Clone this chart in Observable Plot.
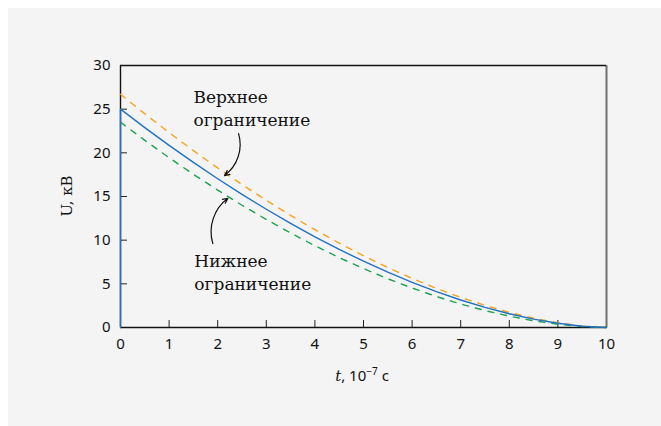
<!DOCTYPE html>
<html>
<head>
<meta charset="utf-8">
<script src="https://cdn.jsdelivr.net/npm/d3@7"></script>
<script src="https://cdn.jsdelivr.net/npm/@observablehq/plot@0.6"></script>
<style>
  html, body { margin: 0; padding: 0; background: #fff; }
  #panel { position: absolute; left: 8px; top: 8px; width: 653px; height: 418px; background: #f4f4f4; }
  #panel svg { display: block; background: transparent; }
  .serif { font-family: "DejaVu Serif", serif !important; }
</style>
</head>
<body>
<div id="panel"></div>
<script>
// Time, 10^-7 s
const t = [0, 0.5, 1, 1.5, 2, 2.5, 3, 3.5, 4, 4.5, 5, 5.5, 6, 6.5, 7, 7.5, 8, 8.5, 9, 9.5, 10];
// Voltage, kV: nominal pulse (rises to 25 kV at t = 0, then decays)
const uNominal = [25, 22.89, 20.86, 18.90, 17.03, 15.24, 13.54, 11.92, 10.38, 8.94, 7.59, 6.33, 5.17, 4.11, 3.15, 2.30, 1.57, 0.96, 0.48, 0.14, 0];
// Upper bound
const uUpper = [26.7, 24.47, 22.32, 20.25, 18.27, 16.37, 14.56, 12.84, 11.20, 9.66, 8.22, 6.87, 5.62, 4.48, 3.45, 2.53, 1.73, 1.06, 0.53, 0.16, 0];
// Lower bound
const uLower = [23.5, 21.43, 19.44, 17.54, 15.73, 14.00, 12.37, 10.82, 9.37, 8.01, 6.75, 5.58, 4.52, 3.55, 2.69, 1.94, 1.30, 0.77, 0.37, 0.11, 0];

const xTicks = [0, 1, 2, 3, 4, 5, 6, 7, 8, 9, 10];
const yTicks = [0, 5, 10, 15, 20, 25, 30];

// Annotation labels and their pointer arrows (data coordinates)
const notes = [
  {t: 1.5, u: 25.26, text: "Верхнее\nограничение"},
  {t: 1.52, u: 6.43, text: "Нижнее\nограничение"}
];
const pointers = [
  {t1: 2.43, u1: 22.2, t2: 2.14, u2: 17.4},
  {t1: 1.90, u1: 9.6, t2: 2.21, u2: 14.8}
];

const nominal = [{t: 0, u: 0}, ...t.map((v, i) => ({t: v, u: uNominal[i]}))];
const upper = t.map((v, i) => ({t: v, u: uUpper[i]}));
const lower = t.map((v, i) => ({t: v, u: uLower[i]}));

const plot = Plot.plot({
  width: 653,
  height: 418,
  marginLeft: 112,
  marginRight: 55,
  marginTop: 57,
  marginBottom: 99,
  style: {background: "transparent", fontFamily: "'Noto Sans', sans-serif", fontSize: "15px", color: "#111"},
  x: {domain: [0, 10]},
  y: {domain: [0, 30]},
  marks: [
    Plot.axisX(xTicks, {tickSize: -7, tickPadding: 18, label: null, stroke: "#222", fill: "#111"}),
    Plot.axisY(yTicks, {tickSize: -7, tickPadding: 17, label: null, stroke: "#222", fill: "#111"}),
    Plot.ruleX([10], {stroke: "#6f6f6f", strokeWidth: 2}),
    Plot.ruleY([30], {stroke: "#111", strokeWidth: 1.4}),
    Plot.ruleY([0], {stroke: "#111", strokeWidth: 1.4}),
    Plot.ruleX([0], {stroke: "#111", strokeWidth: 1.4}),
    Plot.line(upper, {x: "t", y: "u", stroke: "#f7a21b", strokeWidth: 1.4, strokeDasharray: "6,7"}),
    Plot.line(lower, {x: "t", y: "u", stroke: "#1aa34f", strokeWidth: 1.4, strokeDasharray: "6,7"}),
    Plot.line(nominal, {x: "t", y: "u", stroke: "#1f72c2", strokeWidth: 1.4}),
    Plot.arrow(pointers, {x1: "t1", y1: "u1", x2: "t2", y2: "u2", bend: 35, stroke: "#111", strokeWidth: 1.2, headLength: 7, headAngle: 50}),
    Plot.text(notes, {x: "t", y: "u", text: "text", textAnchor: "start", lineAnchor: "middle", lineHeight: 1.35, fontSize: 17, fontFamily: "DejaVu Serif", fill: "#111"})
  ]
});

document.getElementById("panel").appendChild(plot);

// Axis titles
const svg = d3.select(plot);
const xl = svg.append("text")
  .attr("x", 354).attr("y", 373)
  .attr("text-anchor", "middle")
  .attr("font-family", "'Noto Sans', sans-serif")
  .attr("font-size", 15)
  .attr("fill", "#111");
xl.append("tspan").attr("font-style", "italic").attr("class", "serif").text("t");
xl.append("tspan").text(", 10");
xl.append("tspan").attr("font-size", 10).attr("dy", -6).text("−7");
xl.append("tspan").attr("dy", 6).text(" c");

svg.append("text")
  .attr("class", "serif")
  .attr("transform", "translate(59,188) rotate(-90)")
  .attr("text-anchor", "middle")
  .attr("dy", "0.35em")
  .attr("font-size", 15)
  .attr("fill", "#111")
  .text("U, кВ");
</script>
</body>
</html>
